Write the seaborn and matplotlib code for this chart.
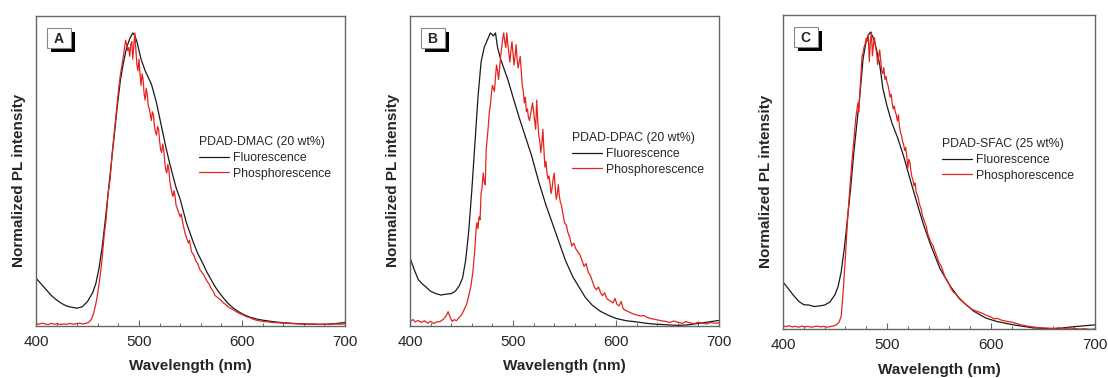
import numpy as np
import pandas as pd
import seaborn as sns
import matplotlib.pyplot as plt
from matplotlib.patches import Rectangle
from matplotlib.ticker import MultipleLocator

sns.set_style("white")
plt.rcParams['font.family'] = ['Liberation Sans', 'DejaVu Sans']

panel_letters = ['A', 'B', 'C']
legend_titles = ['PDAD-DMAC (20 wt%)', 'PDAD-DPAC (20 wt%)', 'PDAD-SFAC (25 wt%)']
series_names = ['Fluorescence', 'Phosphorescence']

# Panel A - fluorescence
wl_a_fl = [400, 405, 410, 415, 420, 425, 430, 435, 440, 445, 450, 455, 458, 461, 464, 467, 470, 473,
           476, 479, 482, 485, 488, 491, 494, 496, 498, 500, 502, 504, 506, 508, 510, 512, 514, 517,
           520, 523, 526, 530, 533, 536, 540, 543, 546, 550, 553, 557, 562, 566, 570, 574, 578, 582,
           586, 590, 594, 600, 607, 614, 620, 630, 640, 650, 660, 670, 680, 690, 700]
pl_a_fl = [0.16, 0.14, 0.12, 0.10, 0.085, 0.073, 0.064, 0.06, 0.057, 0.062, 0.08, 0.11, 0.14, 0.19,
           0.26, 0.35, 0.45, 0.55, 0.65, 0.75, 0.84, 0.90, 0.95, 0.98, 1.0, 0.99, 0.97, 0.94, 0.91,
           0.89, 0.87, 0.855, 0.84, 0.825, 0.80, 0.76, 0.71, 0.66, 0.61, 0.55, 0.51, 0.47, 0.43, 0.39,
           0.35, 0.31, 0.28, 0.245, 0.21, 0.18, 0.155, 0.13, 0.11, 0.092, 0.075, 0.062, 0.051, 0.038,
           0.027, 0.02, 0.016, 0.011, 0.007, 0.005, 0.003, 0.002, 0.002, 0.004, 0.008]

# Panel A - phosphorescence
wl_a_ph = [400, 403, 406, 409, 412, 415, 418, 421, 424, 427, 430, 433, 436, 439, 442, 445, 448, 451,
           454, 456, 458, 460, 462, 464, 466, 468, 470, 472, 474, 476, 478, 480, 482, 484, 486, 487,
           488, 489, 490, 491, 492, 493, 494, 495, 496, 497, 498, 499, 500, 501, 502, 503, 504, 505,
           506, 507, 508, 509, 510, 511, 512, 513, 514, 515, 516, 517, 518, 519, 520, 521, 522, 523,
           524, 525, 526, 527, 528, 529, 530, 531, 532, 533, 534, 535, 536, 537, 538, 540, 541, 543,
           545, 546, 548, 549, 551, 553, 555, 557, 559, 561, 563, 566, 568, 570, 572, 574, 577, 579,
           582, 584, 586, 588, 590, 592, 595, 597, 600, 602, 605, 608, 611, 615, 620, 625, 630, 635,
           640, 645, 650, 655, 660, 665, 670, 675, 680, 685, 690, 695, 700]
pl_a_ph = [0.004, 0.002, 0.006, 0.003, 0.001, 0.005, 0.002, 0.004, 0.001, 0.003, 0.002, 0.005, 0.002,
           0.004, 0.006, 0.003, 0.005, 0.008, 0.02, 0.04, 0.07, 0.11, 0.16, 0.22, 0.30, 0.36, 0.45,
           0.50, 0.59, 0.66, 0.73, 0.80, 0.86, 0.90, 0.95, 0.975, 0.96, 0.94, 0.95, 0.92, 0.96, 0.97,
           0.91, 0.96, 1.0, 0.94, 0.89, 0.87, 0.91, 0.86, 0.82, 0.86, 0.84, 0.79, 0.77, 0.81, 0.79,
           0.75, 0.74, 0.72, 0.70, 0.73, 0.72, 0.68, 0.66, 0.65, 0.68, 0.67, 0.63, 0.60, 0.59, 0.62,
           0.60, 0.56, 0.53, 0.52, 0.55, 0.53, 0.49, 0.47, 0.45, 0.44, 0.46, 0.44, 0.41, 0.40, 0.39,
           0.37, 0.38, 0.34, 0.31, 0.30, 0.28, 0.29, 0.25, 0.24, 0.22, 0.21, 0.19, 0.18, 0.17, 0.15,
           0.14, 0.125, 0.115, 0.10, 0.092, 0.086, 0.075, 0.07, 0.063, 0.058, 0.055, 0.051, 0.044,
           0.04, 0.035, 0.032, 0.027, 0.024, 0.019, 0.015, 0.012, 0.01, 0.008, 0.007, 0.006, 0.005,
           0.004, 0.003, 0.003, 0.002, 0.003, 0.001, 0.002, 0.001, 0.003, 0.002, 0.003]

# Panel B - fluorescence
wl_b_fl = [400, 404, 408, 412, 416, 420, 425, 430, 435, 440, 444, 448, 451, 454, 457, 460, 463, 466,
           469, 472, 475, 478, 481, 483, 485, 488, 491, 495, 500, 506, 512, 518, 525, 532, 538, 545,
           551, 558, 564, 570, 577, 585, 593, 600, 610, 620, 630, 640, 650, 660, 670, 680, 690, 700]
pl_b_fl = [0.23, 0.19, 0.155, 0.14, 0.128, 0.115, 0.107, 0.102, 0.105, 0.107, 0.115, 0.135, 0.16,
           0.22, 0.32, 0.46, 0.62, 0.78, 0.90, 0.95, 0.975, 1.0, 0.99, 1.0, 0.95, 0.91, 0.88, 0.84,
           0.78, 0.71, 0.645, 0.58, 0.49, 0.41, 0.35, 0.28, 0.22, 0.165, 0.13, 0.095, 0.067, 0.046,
           0.032, 0.022, 0.014, 0.01, 0.005, 0.002, 0.0, -0.002, 0.0, 0.005, 0.01, 0.015]

# Panel B - phosphorescence
wl_b_ph = [400, 403, 405, 408, 411, 414, 417, 420, 423, 426, 429, 432, 435, 437, 439, 441, 443, 445,
           447, 449, 451, 453, 455, 457, 459, 461, 463, 464, 465, 466, 467, 468, 469, 470, 471, 472,
           473, 474, 475, 476, 477, 478, 479, 480, 481, 482, 483, 484, 485, 486, 487, 488, 489, 490,
           491, 492, 493, 494, 495, 496, 497, 498, 499, 500, 501, 502, 503, 504, 505, 506, 507, 508,
           509, 510, 511, 512, 513, 514, 515, 516, 517, 518, 519, 520, 521, 522, 523, 524, 525, 526,
           527, 528, 529, 530, 531, 532, 533, 534, 535, 536, 537, 538, 539, 540, 541, 542, 543, 544,
           545, 546, 547, 548, 549, 550, 552, 553, 555, 557, 559, 561, 563, 565, 567, 569, 571, 573,
           575, 577, 579, 581, 583, 585, 587, 589, 591, 593, 595, 597, 599, 601, 603, 605, 607, 609,
           612, 615, 618, 621, 624, 627, 630, 633, 636, 640, 644, 648, 652, 656, 660, 664, 668, 672,
           676, 680, 684, 688, 692, 696, 700]
pl_b_ph = [0.012, 0.018, 0.010, 0.015, 0.008, 0.014, 0.006, 0.012, 0.004, 0.010, 0.011, 0.018, 0.03,
           0.045, 0.025, 0.012, 0.018, 0.014, 0.022, 0.03, 0.04, 0.056, 0.07, 0.10, 0.13, 0.18, 0.26,
           0.32, 0.35, 0.33, 0.37, 0.36, 0.45, 0.47, 0.52, 0.49, 0.48, 0.60, 0.64, 0.68, 0.73, 0.75,
           0.79, 0.82, 0.81, 0.80, 0.85, 0.89, 0.87, 0.84, 0.88, 0.92, 0.95, 0.98, 1.0, 0.97, 0.95,
           1.0, 0.96, 0.93, 0.90, 0.94, 0.97, 0.93, 0.89, 0.92, 0.96, 0.91, 0.88, 0.90, 0.92, 0.87,
           0.82, 0.80, 0.76, 0.78, 0.73, 0.74, 0.71, 0.70, 0.72, 0.74, 0.76, 0.73, 0.70, 0.67, 0.77,
           0.70, 0.65, 0.63, 0.59, 0.62, 0.67, 0.60, 0.54, 0.56, 0.52, 0.50, 0.51, 0.48, 0.45, 0.47,
           0.50, 0.52, 0.47, 0.43, 0.45, 0.48, 0.44, 0.42, 0.41, 0.39, 0.37, 0.35, 0.34, 0.32, 0.30,
           0.27, 0.28, 0.26, 0.25, 0.24, 0.22, 0.20, 0.21, 0.18, 0.17, 0.15, 0.13, 0.12, 0.13, 0.11,
           0.10, 0.11, 0.09, 0.085, 0.08, 0.075, 0.09, 0.07, 0.065, 0.08, 0.055, 0.05, 0.045, 0.04,
           0.036, 0.033, 0.03, 0.032, 0.026, 0.022, 0.02, 0.017, 0.014, 0.012, 0.008, 0.013, 0.009,
           0.005, 0.011, 0.007, 0.004, 0.009, 0.006, 0.003, 0.008, 0.005, 0.007]

# Panel C - fluorescence
wl_c_fl = [400, 405, 410, 415, 420, 425, 430, 435, 440, 445, 450, 453, 456, 459, 462, 465, 468, 471,
           474, 477, 480, 482, 484, 487, 490, 493, 496, 500, 505, 510, 516, 522, 529, 535, 542, 551,
           561, 570, 583, 595, 605, 620, 640, 660, 680, 690, 700]
pl_c_fl = [0.155, 0.133, 0.11, 0.09, 0.078, 0.077, 0.072, 0.074, 0.077, 0.087, 0.112, 0.14, 0.19,
           0.27, 0.37, 0.47, 0.59, 0.69, 0.79, 0.91, 0.97, 0.99, 1.0, 0.98, 0.94, 0.89, 0.81, 0.75,
           0.69, 0.645, 0.58, 0.505, 0.42, 0.35, 0.28, 0.20, 0.14, 0.097, 0.057, 0.033, 0.022, 0.011,
           0.0, -0.004, 0.004, 0.007, 0.01]

# Panel C - phosphorescence
wl_c_ph = [400, 403, 406, 409, 412, 415, 418, 421, 424, 427, 430, 433, 436, 439, 442, 445, 448, 450,
           452, 454, 456, 458, 460, 462, 464, 466, 468, 470, 472, 473, 474, 475, 476, 477, 478, 479,
           480, 481, 482, 483, 484, 485, 486, 487, 488, 489, 490, 491, 492, 493, 494, 495, 496, 497,
           498, 499, 500, 501, 502, 503, 504, 505, 506, 507, 508, 509, 510, 511, 512, 513, 514, 515,
           516, 517, 518, 519, 520, 521, 522, 523, 524, 525, 526, 527, 528, 529, 530, 531, 532, 533,
           534, 535, 536, 537, 538, 539, 540, 541, 542, 544, 546, 548, 550, 552, 554, 556, 558, 560,
           562, 564, 566, 568, 570, 573, 576, 579, 582, 585, 588, 591, 594, 597, 600, 603, 606, 610,
           615, 620, 625, 630, 635, 640, 645, 650, 655, 660, 665, 670, 675, 680, 685, 690, 695, 700]
pl_c_ph = [0.006, 0.004, 0.007, 0.003, 0.005, 0.002, 0.006, 0.003, 0.005, 0.002, 0.004, 0.006, 0.003,
           0.005, 0.002, 0.004, 0.006, 0.008, 0.012, 0.02, 0.04, 0.13, 0.24, 0.36, 0.46, 0.55, 0.63,
           0.71, 0.76, 0.73, 0.80, 0.86, 0.92, 0.93, 0.95, 0.96, 0.98, 0.97, 0.99, 0.90, 0.97, 1.0,
           0.92, 0.96, 0.98, 0.95, 0.93, 0.89, 0.92, 0.94, 0.90, 0.87, 0.86, 0.88, 0.84, 0.85, 0.83,
           0.82, 0.80, 0.78, 0.79, 0.76, 0.74, 0.75, 0.73, 0.72, 0.70, 0.72, 0.68, 0.66, 0.65, 0.63,
           0.62, 0.60, 0.61, 0.58, 0.54, 0.57, 0.56, 0.53, 0.51, 0.50, 0.48, 0.49, 0.46, 0.45, 0.44,
           0.42, 0.41, 0.40, 0.38, 0.37, 0.36, 0.35, 0.34, 0.32, 0.31, 0.30, 0.29, 0.28, 0.26, 0.24,
           0.22, 0.21, 0.19, 0.17, 0.16, 0.145, 0.13, 0.12, 0.115, 0.105, 0.10, 0.088, 0.078, 0.07,
           0.062, 0.058, 0.054, 0.05, 0.045, 0.04, 0.037, 0.03, 0.032, 0.026, 0.022, 0.019, 0.014,
           0.009, 0.006, 0.003, 0.001, 0.0, -0.001, -0.002, 0.0, -0.003, -0.001, -0.002, -0.004,
           -0.003, -0.005, -0.004]

fl_data = [(wl_a_fl, pl_a_fl), (wl_b_fl, pl_b_fl), (wl_c_fl, pl_c_fl)]
ph_data = [(wl_a_ph, pl_a_ph), (wl_b_ph, pl_b_ph), (wl_c_ph, pl_c_ph)]

W, H = 1108, 378
# left, right, top, bottom in pixels
axes_px = [(36, 345, 16, 326), (410, 719, 16, 326), (783, 1095, 15, 329)]
legend_pos = [(0.527, 0.612), (0.523, 0.625), (0.509, 0.607)]

fig = plt.figure(figsize=(W / 100, H / 100), dpi=100)
frame_color = '#666666'
colors = {'Fluorescence': '#1a1a1a', 'Phosphorescence': '#e3241e'}

for i in range(3):
    l, r, t, b = axes_px[i]
    pw, ph = r - l, b - t
    ax = fig.add_axes([l / W, (H - b) / H, pw / W, ph / H])

    df = pd.concat([
        pd.DataFrame({'wavelength': fl_data[i][0], 'intensity': fl_data[i][1], 'series': series_names[0]}),
        pd.DataFrame({'wavelength': ph_data[i][0], 'intensity': ph_data[i][1], 'series': series_names[1]}),
    ])
    sns.lineplot(data=df, x='wavelength', y='intensity', hue='series', hue_order=series_names,
                 palette=colors, estimator=None, linewidth=0.9, ax=ax)

    ax.set_xlim(400, 700)
    ax.set_ylim(-0.004, 1.058)
    ax.set_yticks([])
    ax.xaxis.set_major_locator(MultipleLocator(100))
    ax.xaxis.set_minor_locator(MultipleLocator(20))
    ax.tick_params(axis='x', which='major', direction='in', length=4, width=0.8,
                   color=frame_color, labelsize=11, pad=6.5, bottom=True)
    ax.tick_params(axis='x', which='minor', direction='in', length=2.5, width=0.7,
                   color=frame_color, bottom=True)
    for sp in ax.spines.values():
        sp.set_color(frame_color)
        sp.set_linewidth(1.0)

    ax.set_xlabel('Wavelength (nm)', fontsize=11, fontweight='bold')
    ax.set_ylabel('Normalized PL intensity', fontsize=11, fontweight='bold')
    ax.xaxis.set_label_coords(0.5, -0.108)
    ax.yaxis.set_label_coords(-0.033, 0.47)

    handles, labels = ax.get_legend_handles_labels()
    ax.legend(handles, labels, title=legend_titles[i], loc='upper left',
              bbox_to_anchor=legend_pos[i], frameon=False, fontsize=8.8, title_fontsize=8.8,
              handlelength=2.5, handletextpad=0.3, labelspacing=0.3, borderpad=0,
              borderaxespad=0, alignment='left')

    # panel letter box with drop shadow
    bw, bh = 24 / pw, 20 / ph
    bx, by = 10.5 / pw, 1 - 32 / ph
    ox, oy = 4 / pw, 4 / ph
    ax.add_patch(Rectangle((bx + ox, by - oy), bw, bh, transform=ax.transAxes,
                           facecolor='black', edgecolor='none', zorder=5))
    ax.add_patch(Rectangle((bx, by), bw, bh, transform=ax.transAxes,
                           facecolor='white', edgecolor='#888888', linewidth=0.8, zorder=6))
    ax.text(bx + bw / 2, by + bh / 2 - 5 / ph, panel_letters[i], transform=ax.transAxes,
            ha='center', va='baseline', fontsize=10, fontweight='bold', zorder=7)

fig.savefig('out.png', dpi=100)
